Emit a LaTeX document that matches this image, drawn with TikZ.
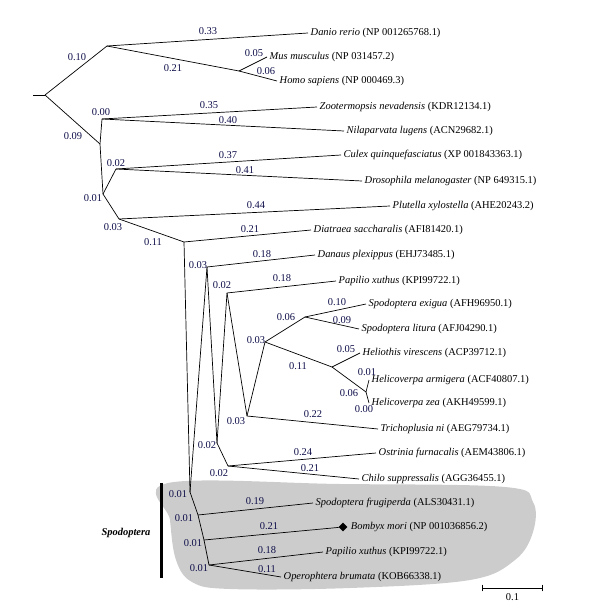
\documentclass[tikz,border=0pt]{standalone}
\usepackage{fontspec}
\setmainfont{Liberation Serif}
\usetikzlibrary{positioning,shapes.geometric}
\definecolor{lencol}{RGB}{15,15,75}
\tikzset{
    branch/.style={black, line width=0.7bp},
    blen/.style={lencol, inner sep=0pt, font=\fontsize{10.5}{12}\selectfont},
    leaf/.style={anchor=west, inner sep=2.5bp, font=\fontsize{10.5}{12}\selectfont},
}
\begin{document}
\begin{tikzpicture}[x=1bp, y=-1bp]
    \useasboundingbox (0,0) rectangle (609,610);
    % shaded Spodoptera group
    \fill[black!20] plot[smooth cycle, tension=0.6] coordinates
        {(168,483) (340,484) (505,487) (533,502) (533,532) (515,560) (470,580)
         (350,588) (230,589) (192,582) (176,560) (170,520)};

    % internal nodes
    \coordinate (RootTail) at (33,95);
    \coordinate (Root) at (45,95);
    \coordinate (Vert) at (107,46);
    \coordinate (Mam) at (239,71);
    \coordinate (Insect) at (100,144);
    \coordinate (Hemi) at (102,119);
    \coordinate (Holo) at (103,194);
    \coordinate (Dipt) at (116,169);
    \coordinate (Lepi) at (119,219);
    \coordinate (Ditr) at (184,242);
    \coordinate (Dana) at (207,267);
    \coordinate (Papi) at (227,293);
    \coordinate (Noct) at (247,416);
    \coordinate (Helio) at (265,342);
    \coordinate (Spod) at (305,317);
    \coordinate (Heli) at (332,367);
    \coordinate (Helico) at (366,392);
    \coordinate (Cramb) at (217,443);
    \coordinate (CrambLow) at (228,466);
    \coordinate (SpA) at (190,492);
    \coordinate (SpB) at (198,515);
    \coordinate (SpC) at (204,540);
    \coordinate (SpD) at (209,565);

    % leaf tips
    \coordinate (Danio) at (308,33);
    \coordinate (Mus) at (267,57);
    \coordinate (Homo) at (277,81);
    \coordinate (Zoot) at (317,107);
    \coordinate (Nila) at (344,131);
    \coordinate (Culex) at (341,155);
    \coordinate (Dros) at (362,181);
    \coordinate (Plut) at (390,206);
    \coordinate (Diat) at (311,230);
    \coordinate (Danaus) at (315,255);
    \coordinate (PapiTop) at (336,281);
    \coordinate (SpExi) at (366,304);
    \coordinate (SpLit) at (359,329);
    \coordinate (HelVir) at (360,353);
    \coordinate (HelArm) at (369,380);
    \coordinate (HelZea) at (369,403);
    \coordinate (Trich) at (378,429);
    \coordinate (Ostr) at (376,453);
    \coordinate (Chilo) at (359,479);
    \coordinate (SpFru) at (313,503);
    \coordinate (PapiLow) at (323,552);
    \coordinate (Oper) at (281,577);
    \node[diamond, fill=black, minimum size=9bp, inner sep=0pt] at (343,527) (BombDia) {};

    % branches
    \draw[branch] (RootTail) -- (Root);
    \draw[branch] (Root) -- (Vert);
    \draw[branch] (Vert) -- (Danio);
    \draw[branch] (Vert) -- (Mam);
    \draw[branch] (Mam) -- (Mus);
    \draw[branch] (Mam) -- (Homo);
    \draw[branch] (Root) -- (Insect);
    \draw[branch] (Insect) -- (Hemi);
    \draw[branch] (Hemi) -- (Zoot);
    \draw[branch] (Hemi) -- (Nila);
    \draw[branch] (Insect) -- (Holo);
    \draw[branch] (Holo) -- (Dipt);
    \draw[branch] (Dipt) -- (Culex);
    \draw[branch] (Dipt) -- (Dros);
    \draw[branch] (Holo) -- (Lepi);
    \draw[branch] (Lepi) -- (Plut);
    \draw[branch] (Lepi) -- (Ditr);
    \draw[branch] (Ditr) -- (Diat);
    \draw[branch] (Ditr) -- (SpA);
    \draw[branch] (Dana) -- (Danaus);
    \draw[branch] (Dana) -- (SpA);
    \draw[branch] (Dana) -- (Cramb);
    \draw[branch] (Papi) -- (PapiTop);
    \draw[branch] (Papi) -- (Cramb);
    \draw[branch] (Papi) -- (Noct);
    \draw[branch] (Noct) -- (Helio);
    \draw[branch] (Noct) -- (Trich);
    \draw[branch] (Helio) -- (Spod);
    \draw[branch] (Spod) -- (SpExi);
    \draw[branch] (Spod) -- (SpLit);
    \draw[branch] (Helio) -- (Heli);
    \draw[branch] (Heli) -- (HelVir);
    \draw[branch] (Heli) -- (Helico);
    \draw[branch] (Helico) -- (HelArm);
    \draw[branch] (Helico) -- (HelZea);
    \draw[branch] (Cramb) -- (CrambLow);
    \draw[branch] (CrambLow) -- (Ostr);
    \draw[branch] (CrambLow) -- (Chilo);
    \draw[branch] (SpA) -- (SpB);
    \draw[branch] (SpB) -- (SpFru);
    \draw[branch] (SpB) -- (SpC);
    \draw[branch] (SpC) -- (BombDia);
    \draw[branch] (SpC) -- (SpD);
    \draw[branch] (SpD) -- (PapiLow);
    \draw[branch] (SpD) -- (Oper);

    % leaf labels
    \node[leaf] at (Danio) (DanioTxt) {\textit{Danio rerio} (NP 001265768.1)};
    \node[leaf] at (Mus) (MusTxt) {\textit{Mus musculus} (NP 031457.2)};
    \node[leaf] at (Homo) (HomoTxt) {\textit{Homo sapiens} (NP 000469.3)};
    \node[leaf] at (Zoot) (ZootTxt) {\textit{Zootermopsis nevadensis} (KDR12134.1)};
    \node[leaf] at (Nila) (NilaTxt) {\textit{Nilaparvata lugens} (ACN29682.1)};
    \node[leaf] at (Culex) (CulexTxt) {\textit{Culex quinquefasciatus} (XP 001843363.1)};
    \node[leaf] at (Dros) (DrosTxt) {\textit{Drosophila melanogaster} (NP 649315.1)};
    \node[leaf] at (Plut) (PlutTxt) {\textit{Plutella xylostella} (AHE20243.2)};
    \node[leaf] at (Diat) (DiatTxt) {\textit{Diatraea saccharalis} (AFI81420.1)};
    \node[leaf] at (Danaus) (DanausTxt) {\textit{Danaus plexippus} (EHJ73485.1)};
    \node[leaf] at (PapiTop) (PapiTopTxt) {\textit{Papilio xuthus} (KPI99722.1)};
    \node[leaf] at (SpExi) (SpExiTxt) {\textit{Spodoptera exigua} (AFH96950.1)};
    \node[leaf] at (SpLit) (SpLitTxt) {\textit{Spodoptera litura} (AFJ04290.1)};
    \node[leaf] at (HelVir) (HelVirTxt) {\textit{Heliothis virescens} (ACP39712.1)};
    \node[leaf] at (HelArm) (HelArmTxt) {\textit{Helicoverpa armigera} (ACF40807.1)};
    \node[leaf] at (HelZea) (HelZeaTxt) {\textit{Helicoverpa zea} (AKH49599.1)};
    \node[leaf] at (Trich) (TrichTxt) {\textit{Trichoplusia ni} (AEG79734.1)};
    \node[leaf] at (Ostr) (OstrTxt) {\textit{Ostrinia furnacalis} (AEM43806.1)};
    \node[leaf] at (Chilo) (ChiloTxt) {\textit{Chilo suppressalis} (AGG36455.1)};
    \node[leaf] at (SpFru) (SpFruTxt) {\textit{Spodoptera frugiperda} (ALS30431.1)};
    \node[leaf, right=0.5bp of BombDia] (BombTxt) {\textit{Bombyx mori} (NP 001036856.2)};
    \node[leaf] at (PapiLow) (PapiLowTxt) {\textit{Papilio xuthus} (KPI99722.1)};
    \node[leaf] at (Oper) (OperTxt) {\textit{Operophtera brumata} (KOB66338.1)};

    % branch lengths
    \node[blen] at (77,57) (LenVert) {0.10};
    \node[blen] at (208,31) (LenDanio) {0.33};
    \node[blen] at (173,68) (LenMam) {0.21};
    \node[blen] at (254,53) (LenMus) {0.05};
    \node[blen] at (266,71) (LenHomo) {0.06};
    \node[blen] at (73,136) (LenInsect) {0.09};
    \node[blen] at (101,112) (LenHemi) {0.00};
    \node[blen] at (209,105) (LenZoot) {0.35};
    \node[blen] at (228,120) (LenNila) {0.40};
    \node[blen] at (116,163) (LenDipt) {0.02};
    \node[blen] at (228,155) (LenCulex) {0.37};
    \node[blen] at (245,170) (LenDros) {0.41};
    \node[blen] at (93,198) (LenHolo) {0.01};
    \node[blen] at (113,227) (LenLepi) {0.03};
    \node[blen] at (256,205) (LenPlut) {0.44};
    \node[blen] at (153,242) (LenDitr) {0.11};
    \node[blen] at (250,229) (LenDiat) {0.21};
    \node[blen] at (198,265) (LenDana) {0.03};
    \node[blen] at (262,254) (LenDanaus) {0.18};
    \node[blen] at (222,285) (LenPapi) {0.02};
    \node[blen] at (282,278) (LenPapiTop) {0.18};
    \node[blen] at (256,340) (LenHelio) {0.03};
    \node[blen] at (286,317) (LenSpod) {0.06};
    \node[blen] at (337,302) (LenSpExi) {0.10};
    \node[blen] at (342,320) (LenSpLit) {0.09};
    \node[blen] at (298,366) (LenHeli) {0.11};
    \node[blen] at (346,349) (LenHelVir) {0.05};
    \node[blen] at (349,393) (LenHelico) {0.06};
    \node[blen] at (367,372) (LenHelArm) {0.01};
    \node[blen] at (364,409) (LenHelZea) {0.00};
    \node[blen] at (236,421) (LenNoct) {0.03};
    \node[blen] at (313,414) (LenTrich) {0.22};
    \node[blen] at (207,445) (LenCramb) {0.02};
    \node[blen] at (219,473) (LenCrambLow) {0.02};
    \node[blen] at (303,452) (LenOstr) {0.24};
    \node[blen] at (310,468) (LenChilo) {0.21};
    \node[blen] at (178,494) (LenSpA) {0.01};
    \node[blen] at (184,518) (LenSpB) {0.01};
    \node[blen] at (193,543) (LenSpC) {0.01};
    \node[blen] at (199,568) (LenSpD) {0.01};
    \node[blen] at (255,501) (LenSpFru) {0.19};
    \node[blen] at (269,526) (LenBomb) {0.21};
    \node[blen] at (267,550) (LenPapiLow) {0.18};
    \node[blen] at (267,569) (LenOper) {0.11};

    % group bar
    \coordinate (BarTop) at (161,483);
    \coordinate (BarBot) at (161,578);
    \draw[line width=3bp] (BarTop) -- (BarBot);
    \node[font=\fontsize{10.5}{12}\selectfont] at (126,533) (BarTxt) {\textbf{\textit{Spodoptera}}};

    % scale bar
    \coordinate (ScaleL) at (482,588);
    \coordinate (ScaleR) at (543,588);
    \draw[branch, |-|] (ScaleL) -- (ScaleR) node[midway, below=2bp, black, font=\fontsize{10.5}{12}\selectfont] (ScaleTxt) {0.1};
\end{tikzpicture}
\end{document}
